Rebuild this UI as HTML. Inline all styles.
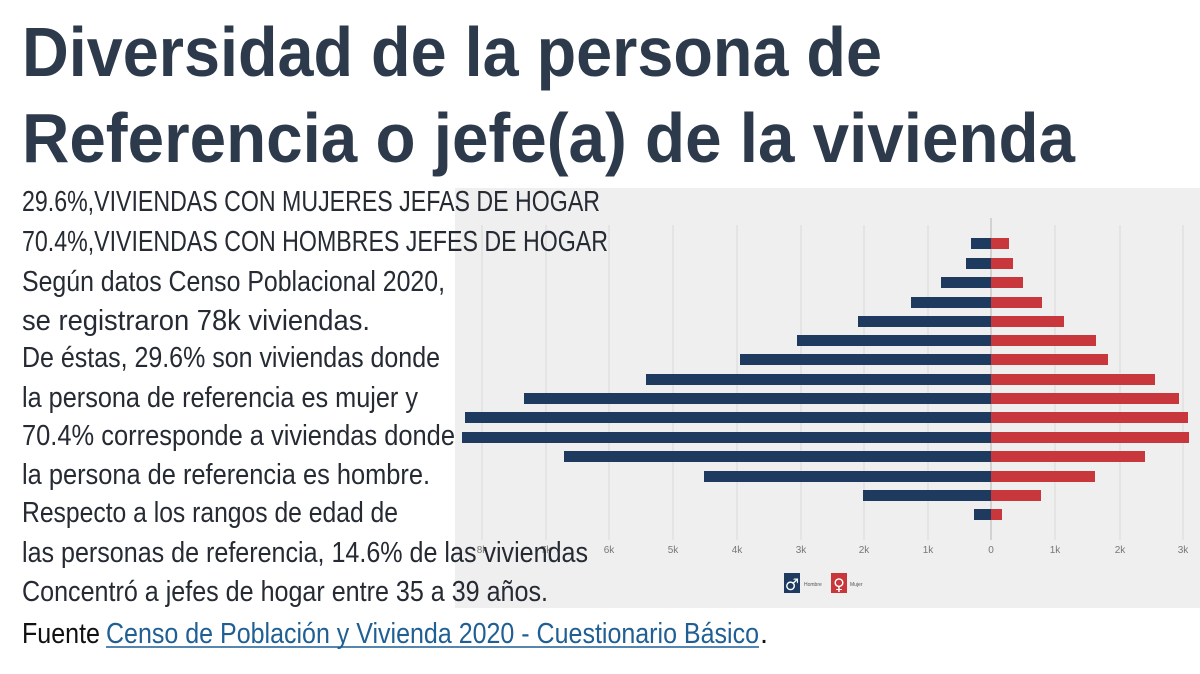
<!DOCTYPE html>
<html><head><meta charset="utf-8"><style>
html,body{margin:0;padding:0;background:#fff;width:1200px;height:674px;overflow:hidden}
svg{display:block}
</style></head><body>
<svg width="1200" height="674" viewBox="0 0 1200 674" xmlns="http://www.w3.org/2000/svg">
<rect x="0" y="0" width="1200" height="674" fill="#fff"/>
<rect x="455" y="188" width="745" height="420" fill="#efefef"/>
<g stroke="#d9d9d9" stroke-width="1">
<line x1="482" y1="225" x2="482" y2="540"/><line x1="546" y1="225" x2="546" y2="540"/>
<line x1="609" y1="225" x2="609" y2="540"/><line x1="673" y1="225" x2="673" y2="540"/>
<line x1="737" y1="225" x2="737" y2="540"/><line x1="801" y1="225" x2="801" y2="540"/>
<line x1="864" y1="225" x2="864" y2="540"/><line x1="928" y1="225" x2="928" y2="540"/>
<line x1="1055" y1="225" x2="1055" y2="540"/><line x1="1120" y1="225" x2="1120" y2="540"/>
<line x1="1183" y1="225" x2="1183" y2="540"/>
</g>
<line x1="991" y1="218" x2="991" y2="540" stroke="#b5b5b5" stroke-width="1"/>
<g fill="#1f3a5f">
<rect x="971" y="238" width="20" height="11"/><rect x="966" y="258" width="25" height="11"/>
<rect x="941" y="277" width="50" height="11"/><rect x="911" y="297" width="80" height="11"/>
<rect x="858" y="316" width="133" height="11"/><rect x="797" y="335" width="194" height="11"/>
<rect x="740" y="354" width="251" height="11"/><rect x="646" y="374" width="345" height="11"/>
<rect x="524" y="393" width="467" height="11"/><rect x="465" y="412" width="526" height="11"/>
<rect x="462" y="432" width="529" height="11"/><rect x="564" y="451" width="427" height="11"/>
<rect x="704" y="471" width="287" height="11"/><rect x="863" y="490" width="128" height="11"/>
<rect x="974" y="509" width="17" height="11"/>
</g>
<g fill="#c8373b">
<rect x="991" y="238" width="18" height="11"/><rect x="991" y="258" width="22" height="11"/>
<rect x="991" y="277" width="32" height="11"/><rect x="991" y="297" width="51" height="11"/>
<rect x="991" y="316" width="73" height="11"/><rect x="991" y="335" width="105" height="11"/>
<rect x="991" y="354" width="117" height="11"/><rect x="991" y="374" width="164" height="11"/>
<rect x="991" y="393" width="188" height="11"/><rect x="991" y="412" width="197" height="11"/>
<rect x="991" y="432" width="198" height="11"/><rect x="991" y="451" width="154" height="11"/>
<rect x="991" y="471" width="104" height="11"/><rect x="991" y="490" width="50" height="11"/>
<rect x="991" y="509" width="11" height="11"/>
</g>
<g font-family="Liberation Sans Narrow, Liberation Sans, sans-serif" font-size="10" fill="#777" text-anchor="middle">
<text x="482" y="553">8k</text><text x="546" y="553">7k</text><text x="609" y="553">6k</text>
<text x="673" y="553">5k</text><text x="737" y="553">4k</text><text x="801" y="553">3k</text>
<text x="864" y="553">2k</text><text x="928" y="553">1k</text><text x="991" y="553">0</text>
<text x="1055" y="553">1k</text><text x="1120" y="553">2k</text><text x="1183" y="553">3k</text>
</g>
<rect x="784" y="573" width="16" height="20" fill="#1f3a5f"/>
<text x="792" y="590" font-family="DejaVu Sans, sans-serif" font-size="16" fill="#fff" text-anchor="middle">♂</text>
<text x="804" y="586" font-family="Liberation Sans, sans-serif" font-size="5" fill="#555">Hombre</text>
<rect x="831" y="573" width="16" height="20" fill="#c8373b"/>
<text x="839" y="590" font-family="DejaVu Sans, sans-serif" font-size="16" fill="#fff" text-anchor="middle">♀</text>
<text x="850" y="586" font-family="Liberation Sans, sans-serif" font-size="5" fill="#555">Mujer</text>

<g font-family="Liberation Sans, sans-serif" font-weight="bold" fill="#2d3a4b" font-size="70">
<text x="22" y="76" textLength="860" lengthAdjust="spacingAndGlyphs">Diversidad de la persona de</text>
<text x="22" y="162" textLength="1053" lengthAdjust="spacingAndGlyphs">Referencia o jefe(a) de la vivienda</text>
</g>
<g font-family="Liberation Sans, sans-serif" fill="#252a33" font-size="29">
<text x="22" y="211" textLength="578" lengthAdjust="spacingAndGlyphs">29.6%,VIVIENDAS CON MUJERES JEFAS DE HOGAR</text>
<text x="22" y="251" textLength="586" lengthAdjust="spacingAndGlyphs">70.4%,VIVIENDAS CON HOMBRES JEFES DE HOGAR</text>
<text x="22" y="291" textLength="423" lengthAdjust="spacingAndGlyphs">Según datos Censo Poblacional 2020,</text>
<text x="22" y="330" textLength="348" lengthAdjust="spacingAndGlyphs">se registraron 78k viviendas.</text>
<text x="22" y="367" textLength="418" lengthAdjust="spacingAndGlyphs">De éstas, 29.6% son viviendas donde</text>
<text x="22" y="407" textLength="396" lengthAdjust="spacingAndGlyphs">la persona de referencia es mujer y</text>
<text x="22" y="445" textLength="433" lengthAdjust="spacingAndGlyphs">70.4% corresponde a viviendas donde</text>
<text x="22" y="484" textLength="408" lengthAdjust="spacingAndGlyphs">la persona de referencia es hombre.</text>
<text x="22" y="522" textLength="376" lengthAdjust="spacingAndGlyphs">Respecto a los rangos de edad de</text>
<text x="22" y="562" textLength="566" lengthAdjust="spacingAndGlyphs">las personas de referencia, 14.6% de las viviendas</text>
<text x="22" y="601" textLength="526" lengthAdjust="spacingAndGlyphs">Concentró a jefes de hogar entre 35 a 39 años.</text>
<text x="22" y="643" fill="#111" textLength="78" lengthAdjust="spacingAndGlyphs">Fuente</text>
<text x="106" y="643" fill="#1f5f94" textLength="653" lengthAdjust="spacingAndGlyphs">Censo de Población y Vivienda 2020 - Cuestionario Básico</text>
<text x="760" y="643" fill="#111">.</text>
</g>
<line x1="106" y1="647" x2="759" y2="647" stroke="#1f5f94" stroke-width="1.5"/>
</svg>
</body></html>
